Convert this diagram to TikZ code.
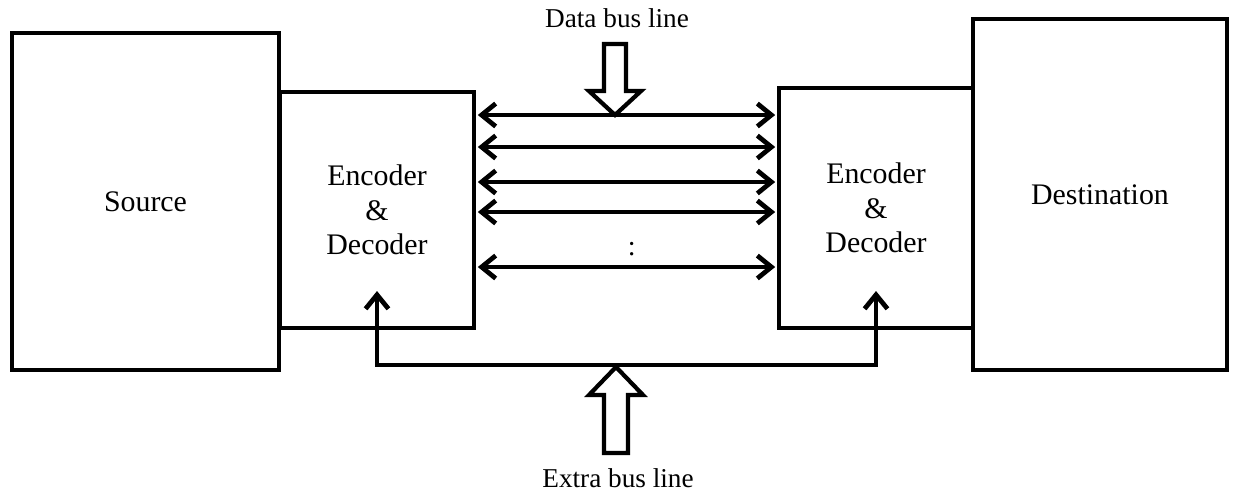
\documentclass[tikz,border=0pt]{standalone}
\usepackage{fontspec}
\setmainfont{Liberation Serif}
\usepackage{tikz}
\usetikzlibrary{arrows.meta, positioning, calc}

\begin{document}
\begin{tikzpicture}[
				x=0.02cm, y=-0.02cm,
				blk/.style={draw, line width=2.4pt, align=center, inner sep=0pt, font=\fontsize{17}{19.5}\selectfont},
				bus/.style={line width=2.7pt},
				hollow/.style={draw, line width=2.4pt, fill=white, line join=miter},
				lbl/.style={font=\fontsize{15.5}{18}\selectfont, inner sep=0pt},
				>={Straight Barb[length=8pt,width=13pt]}
			]
				\useasboundingbox (0,0) rectangle (1239,491);

				% end blocks
				\node[blk, minimum width=5.34cm, minimum height=6.74cm] (src) at (145.5,201.5) {Source};
				\node[blk, minimum width=5.08cm, minimum height=7.02cm] (dst) at (1100,194.5) {Destination};
				\node[blk, minimum width=3.88cm, minimum height=4.72cm] (lenc) at (377,210) {Encoder\\\&\\Decoder};
				\node[blk, minimum width=3.88cm, minimum height=4.80cm] (renc) at (876,208) {Encoder\\\&\\Decoder};

				% data bus
				\foreach \yy in {115,147,182,212}
					\draw[bus, <->, shorten <=1pt, shorten >=1pt] (lenc.east |- 0,\yy) -- (renc.west |- 0,\yy);
				\draw[bus, <->, shorten <=1pt, shorten >=1pt] (lenc.east |- 0,267) -- (renc.west |- 0,267)
					node[midway, above=5pt, xshift=3pt, font=\fontsize{16}{18}\selectfont, inner sep=0pt] (dots) {:};

				\coordinate (dbtip) at (615,115);
				\draw[hollow] (dbtip) -- ++(-26,-24) -- ++(15,0) -- ++(0,-47) -- ++(22,0) -- ++(0,47) -- ++(15,0) -- cycle;
				\node[lbl] (dblabel) at (617,18) {Data bus line};

				% extra bus
				\coordinate (ebl) at (lenc.south |- 0,365);
				\coordinate (ebr) at (renc.south |- 0,365);
				\draw[bus, <->] (lenc.south |- 0,291) -- (ebl) -- (ebr) -- (renc.south |- 0,291);

				\coordinate (ebtip) at (616,367);
				\draw[hollow] (ebtip) -- ++(-27,28) -- ++(15,0) -- ++(0,58) -- ++(24,0) -- ++(0,-58) -- ++(15,0) -- cycle;
				\node[lbl] (eblabel) at (618,478) {Extra bus line};
			\end{tikzpicture}
\end{document}
